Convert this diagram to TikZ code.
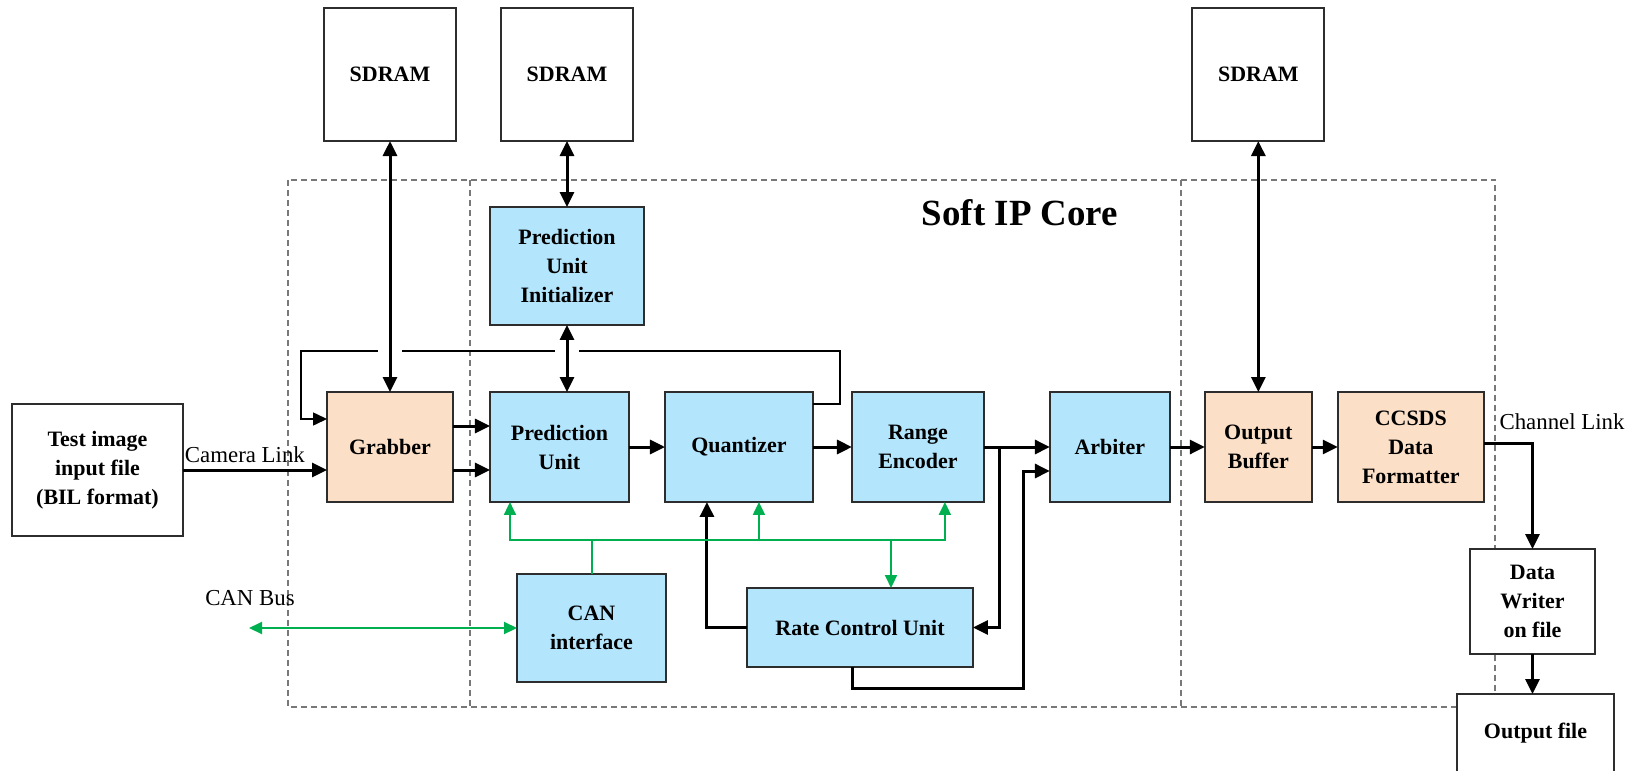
\documentclass[tikz,border=0pt]{standalone}
\usepackage{fontspec}
\setmainfont{Liberation Serif}
\usetikzlibrary{positioning,arrows.meta,calc}
\definecolor{ipblue}{RGB}{179,229,252}
\definecolor{ippeach}{RGB}{251,223,199}
\definecolor{ipgreen}{RGB}{0,176,80}
\definecolor{ipedge}{RGB}{45,45,45}
\definecolor{ipdash}{RGB}{120,120,120}
\begin{document}
\begin{tikzpicture}[x=0.02cm, y=-0.02cm,
    blk/.style={draw=ipedge, line width=0.04cm, outer sep=0pt, inner sep=1pt, align=center,
      font=\fontsize{12.5}{16.5}\selectfont\bfseries, minimum height=2.2cm},
    core/.style={blk, fill=ipblue},
    io/.style={blk, fill=ippeach},
    ext/.style={blk, fill=white},
    arr/.style={line width=0.06cm, -{Triangle[length=0.3cm, width=0.28cm]}},
    dbl/.style={line width=0.06cm, {Triangle[length=0.3cm, width=0.28cm]}-{Triangle[length=0.3cm, width=0.28cm]}},
    fb/.style={line width=0.03cm, -{Triangle[length=0.28cm, width=0.26cm]}},
    gline/.style={draw=ipgreen, line width=0.04cm},
    garr/.style={gline, -{Triangle[length=0.26cm, width=0.24cm]}},
    lbl/.style={font=\fontsize{13}{15}\selectfont}]
  \useasboundingbox (0,0) rectangle (1631,770);
  \draw[ipdash, line width=0.025cm, dash pattern=on 0.12cm off 0.08cm]
    (288,180) rectangle (1495,707) (470,180) -- (470,707) (1181,180) -- (1181,707);
  \node[font=\fontsize{21}{25}\selectfont\bfseries] (sip) at (1020,213) {Soft IP Core};

  \node[ext, minimum width=3.42cm, minimum height=2.64cm] (img) at (97.5,470) {Test image\\input file\\(BIL format)};
  \node[io, minimum width=2.52cm] (grb) at (390,447) {Grabber};
  \node[core, minimum width=2.78cm, right=0.74cm of grb] (pu) {Prediction\\Unit};
  \node[core, minimum width=2.96cm, right=0.72cm of pu] (qz) {Quantizer};
  \node[core, minimum width=2.64cm, right=0.78cm of qz] (re) {Range\\Encoder};
  \node[core, minimum width=2.4cm, right=1.32cm of re] (arb) {Arbiter};
  \node[io, minimum width=2.14cm, right=0.7cm of arb] (ob) {Output\\Buffer};
  \node[io, minimum width=2.92cm, right=0.52cm of ob] (cf) {CCSDS\\Data\\Formatter};
  \node[core, minimum width=3.08cm, minimum height=2.36cm] (pui) at (567,266) {Prediction\\Unit\\Initializer};
  \node[ext, minimum width=2.64cm, minimum height=2.66cm, above=5.02cm of grb] (sd1) {SDRAM};
  \node[ext, minimum width=2.64cm, minimum height=2.66cm, above=1.32cm of pui] (sd2) {SDRAM};
  \node[ext, minimum width=2.64cm, minimum height=2.66cm, above=5.02cm of ob] (sd3) {SDRAM};
  \node[core, minimum width=2.98cm, minimum height=2.16cm] (can) at (591.5,628) {CAN\\interface};
  \node[core, minimum width=4.52cm, minimum height=1.58cm] (rcu) at (860,627.5) {Rate Control Unit};
  \node[ext, minimum width=2.5cm, minimum height=2.1cm] (dw) at (1532.5,601.5) {Data\\Writer\\on file};
  \node[ext, minimum width=3.14cm, minimum height=2.2cm, text height=0.32cm, text depth=0.74cm] (of) at (1535.5,749) {Output file};

  \coordinate (fr) at (840,351);
  \coordinate (fl) at (301,351);
  \draw[fb] ($(qz.east)+(0,-43)$) -| (fr) -- (fl) |- ($(grb.west)+(0,-28)$);
  \foreach \v in {sd1,sd2}
    \draw[white, line width=0.1cm] ($(\v.south |- fl)+(-12,0)$) -- ($(\v.south |- fl)+(12,0)$);
  \draw[dbl] (sd1) -- (grb);
  \draw[dbl] (sd2) -- (pui);
  \draw[dbl] (pui.south) -- (pui.south |- pu.north);
  \draw[dbl] (sd3) -- (ob);

  \draw[arr] (img.east) -- (img.east -| grb.west) node[lbl, above, pos=0.43] (cml) {Camera Link};
  \draw[arr] ($(grb.east)+(0,-21)$) -- ($(pu.west)+(0,-21)$);
  \draw[arr] ($(grb.east)+(0,23)$) -- ($(pu.west)+(0,23)$);
  \draw[arr] (pu) -- (qz);
  \draw[arr] (qz) -- (re);
  \draw[arr] (re) -- (arb);
  \draw[arr] (arb) -- (ob);
  \draw[arr] (ob) -- (cf);
  \draw[arr] ($(re.east)+(16,0)$) |- (rcu.east);
  \draw[arr] ($(rcu.south)+(-8,0)$) |- ($(rcu.south)+(163,21)$) |- ($(arb.west)+(0,24)$);
  \draw[arr] (rcu.west) -| ($(qz.south)+(-32,0)$);
  \draw[arr] ($(cf.east)+(0,-4)$) -| (dw.north);
  \draw[arr] (dw.south) -- (dw.south |- of.north);
  \node[lbl] (chl) at (1562,422) {Channel Link};

  \coordinate (gb) at ($(can.north)+(0,-34)$);
  \coordinate (gq) at ($(qz.south)+(20,0)$);
  \coordinate (gr) at ($(rcu.north)+(31,0)$);
  \coordinate (cb) at (249,628);
  \draw[gline] (can.north) -- (gb);
  \draw[garr] (gb) -| ($(pu.south)+(-49.5,0)$);
  \draw[garr] (gb) -| ($(re.south)+(27,0)$);
  \draw[garr] (gq |- gb) -- (gq);
  \draw[garr] (gr |- gb) -- (gr);
  \draw[gline, {Triangle[length=0.26cm, width=0.24cm]}-{Triangle[length=0.26cm, width=0.24cm]}] (cb) -- (can.west);
  \node[lbl] (cbl) at (250,598) {CAN Bus};
\end{tikzpicture}
\end{document}
